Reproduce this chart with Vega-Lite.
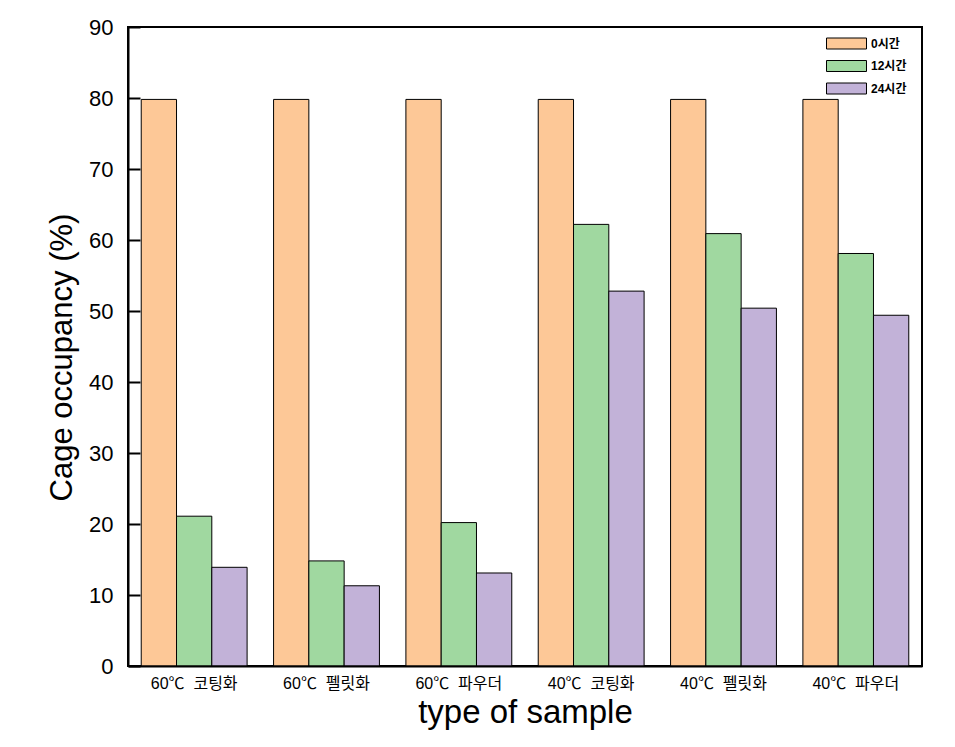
{
  "$schema": "https://vega.github.io/schema/vega-lite/v6.json",
  "width": 794,
  "height": 639,
  "autosize": {"type": "none"},
  "padding": {"left": 128, "top": 27, "right": 33, "bottom": 81},
  "background": "white",
  "config": {
    "view": {"stroke": "black", "strokeWidth": 2},
    "font": "Liberation Sans, Noto Sans CJK KR"
  },
  "data": {
    "values": [
      {"sample": "60℃\u00a0 코팅화", "time": "0시간", "value": 79.8},
      {"sample": "60℃\u00a0 코팅화", "time": "12시간", "value": 21.1},
      {"sample": "60℃\u00a0 코팅화", "time": "24시간", "value": 13.9},
      {"sample": "60℃\u00a0 펠릿화", "time": "0시간", "value": 79.8},
      {"sample": "60℃\u00a0 펠릿화", "time": "12시간", "value": 14.8},
      {"sample": "60℃\u00a0 펠릿화", "time": "24시간", "value": 11.3},
      {"sample": "60℃\u00a0 파우더", "time": "0시간", "value": 79.8},
      {"sample": "60℃\u00a0 파우더", "time": "12시간", "value": 20.2},
      {"sample": "60℃\u00a0 파우더", "time": "24시간", "value": 13.1},
      {"sample": "40℃\u00a0 코팅화", "time": "0시간", "value": 79.8},
      {"sample": "40℃\u00a0 코팅화", "time": "12시간", "value": 62.2},
      {"sample": "40℃\u00a0 코팅화", "time": "24시간", "value": 52.8},
      {"sample": "40℃\u00a0 펠릿화", "time": "0시간", "value": 79.8},
      {"sample": "40℃\u00a0 펠릿화", "time": "12시간", "value": 60.9},
      {"sample": "40℃\u00a0 펠릿화", "time": "24시간", "value": 50.4},
      {"sample": "40℃\u00a0 파우더", "time": "0시간", "value": 79.8},
      {"sample": "40℃\u00a0 파우더", "time": "12시간", "value": 58.1},
      {"sample": "40℃\u00a0 파우더", "time": "24시간", "value": 49.4}
    ]
  },
  "mark": {"type": "bar", "stroke": "black", "strokeWidth": 1},
  "encoding": {
    "x": {
      "field": "sample",
      "type": "nominal",
      "sort": ["60℃\u00a0 코팅화", "60℃\u00a0 펠릿화", "60℃\u00a0 파우더", "40℃\u00a0 코팅화", "40℃\u00a0 펠릿화", "40℃\u00a0 파우더"],
      "scale": {"paddingInner": 0.2, "paddingOuter": 0.1},
      "axis": {
        "title": "type of sample",
        "titleFontSize": 33,
        "titleFontWeight": "normal",
        "titleColor": "black",
        "titlePadding": 5,
        "labelAngle": 0,
        "labelFontSize": 16,
        "labelColor": "black",
        "labelPadding": 9,
        "ticks": false,
        "domainColor": "black",
        "domainWidth": 2,
        "zindex": 1
      }
    },
    "xOffset": {"field": "time", "type": "nominal", "sort": ["0시간", "12시간", "24시간"]},
    "y": {
      "field": "value",
      "type": "quantitative",
      "scale": {"domain": [0, 90], "nice": false},
      "axis": {
        "title": "Cage occupancy (%)",
        "titleFontSize": 31,
        "titleFontWeight": "normal",
        "titleColor": "black",
        "titlePadding": 10,
        "titleY": 330,
        "domainColor": "black",
        "domainWidth": 2,
        "values": [0, 10, 20, 30, 40, 50, 60, 70, 80, 90],
        "labelFontSize": 22,
        "labelColor": "black",
        "labelPadding": 27,
        "ticks": true,
        "tickSize": -12,
        "tickColor": "black",
        "tickWidth": 2,
        "grid": false,
        "zindex": 2
      }
    },
    "color": {
      "field": "time",
      "type": "nominal",
      "sort": ["0시간", "12시간", "24시간"],
      "scale": {"domain": ["0시간", "12시간", "24시간"], "range": ["#FDC897", "#A0D8A0", "#C2B2D8"]},
      "legend": {
        "title": null,
        "orient": "none",
        "legendX": 708,
        "legendY": 6,
        "padding": 0,
        "symbolType": "M-2,-0.55H2V0.55H-2Z",
        "symbolSize": 400,
        "symbolStrokeColor": "black",
        "symbolStrokeWidth": 1,
        "symbolOpacity": 1,
        "labelFontSize": 12,
        "labelFontWeight": "bold",
        "labelColor": "black",
        "labelOffset": 14,
        "rowPadding": 4.5
      }
    }
  }
}
